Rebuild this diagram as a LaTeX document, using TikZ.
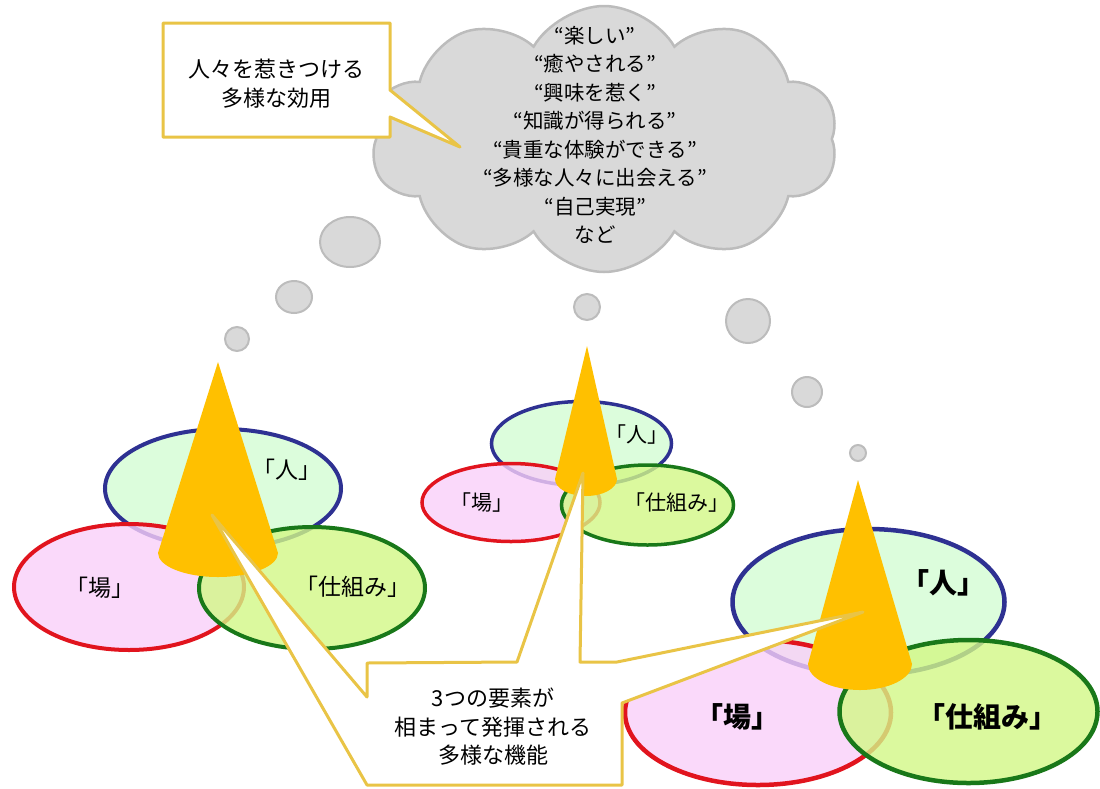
\documentclass[tikz,border=0pt]{standalone}
\usepackage{fontspec}
\setmainfont{Noto Sans CJK JP}
\usetikzlibrary{shapes.symbols}
\definecolor{gold}{RGB}{233,196,70}
\definecolor{conecol}{RGB}{255,192,0}
\definecolor{cloudfill}{RGB}{217,217,217}
\definecolor{cloudline}{RGB}{188,188,188}
\definecolor{bluel}{RGB}{46,49,146}
\definecolor{redl}{RGB}{225,20,30}
\definecolor{greenl}{RGB}{25,120,25}
\definecolor{bluef}{RGB}{211,252,211}
\definecolor{redf}{RGB}{249,207,249}
\definecolor{greenf}{RGB}{210,248,134}
\tikzset{
 hito/.style={draw=bluel, fill=bluef, fill opacity=0.8},
 ba/.style={draw=redl, fill=redf, fill opacity=0.8},
 shikumi/.style={draw=greenl, fill=greenf, fill opacity=0.8},
 conefill/.style={fill=conecol},
 callout/.style={draw=gold, fill=white, line width=3pt, line join=round},
 puff/.style={draw=cloudline, fill=cloudfill, line width=2pt},
 lblS/.style={inner sep=0pt, font=\fontsize{21}{21}\selectfont},
 lblM/.style={inner sep=0pt, font=\fontsize{23}{23}\selectfont},
 lblL/.style={inner sep=0pt, font=\fontsize{28}{28}\selectfont\bfseries},
 body/.style={inner sep=0pt, align=center},
}
\begin{document}
\begin{tikzpicture}[x=1pt,y=-1pt]
\useasboundingbox (0,0) rectangle (1100,788);

% cloud
\node[cloud, cloud puffs=10, cloud puff arc=120, cloud ignores aspect,
      minimum width=468pt, minimum height=266pt, puff, line width=2.5pt] (cloud) at (604,139) {};

% thought bubbles
\draw[puff] (350,242) ellipse [x radius=30, y radius=25];
\draw[puff] (294,297) ellipse [x radius=18, y radius=16];
\draw[puff] (237,339) circle [radius=12];
\draw[puff] (587,307) circle [radius=13];
\draw[puff] (748,321) circle [radius=22];
\draw[puff] (807,392) circle [radius=15];
\draw[puff] (858,453) circle [radius=8];

% left group
\draw[hito, line width=4pt] (223,488.5) ellipse [x radius=118, y radius=59.5];
\draw[ba, line width=4pt] (129,587) ellipse [x radius=115, y radius=63];
\draw[shikumi, line width=4pt] (312,588) ellipse [x radius=113, y radius=61];
\node[lblM] (lh) at (287,470) {「人」};
\node[lblM] (lb) at (100,588) {「場」};
\node[lblM] (ls) at (353,587) {「仕組み」};

% middle group
\draw[hito, line width=3.5pt] (581.5,443.5) ellipse [x radius=90, y radius=42];
\draw[ba, line width=3.5pt] (511,502.5) ellipse [x radius=89, y radius=39];
\draw[shikumi, line width=3.5pt] (647.5,505) ellipse [x radius=86, y radius=40];
\node[lblS] (mh) at (637,435) {「人」};
\node[lblS] (mb) at (482,503) {「場」};
\node[lblS] (ms) at (677,503) {「仕組み」};

% right group
\draw[hito, line width=4.5pt] (868.5,602) ellipse [x radius=136, y radius=73];
\draw[ba, line width=4.5pt] (758,712.5) ellipse [x radius=133, y radius=72.5];
\draw[shikumi, line width=4.5pt] (968.5,711.5) ellipse [x radius=129, y radius=71.5];
\node[lblL] (rh) at (943,583) {「人」};
\node[lblL] (rb) at (737,717) {「場」};
\node[lblL] (rs) at (987,717) {「仕組み」};

% cones
\fill[conefill] (218,362) -- (158,553) arc[start angle=180, end angle=0, x radius=60, y radius=24] -- cycle;
\fill[conefill] (587,346) -- (555,479) arc[start angle=180, end angle=0, x radius=31, y radius=17] -- cycle;
\fill[conefill] (858,480) -- (808,664) arc[start angle=180, end angle=0, x radius=52, y radius=26] -- cycle;

% top callout
\coordinate (tipT) at (460,147);
\draw[callout] (163,23) -- (390,23) -- (390,90) -- (tipT) -- (390,117) -- (390,137) -- (163,137) -- cycle;
\node[body, font=\fontsize{22}{29}\selectfont] (topt) at (276,84) {人々を惹きつける\\多様な効用};

% bottom callout
\coordinate (tipL) at (212,515);
\coordinate (tipM) at (583,473);
\coordinate (tipR) at (863,612);
\draw[callout] (367,663) -- (517,662) -- (tipM) -- (580,662) -- (617,662) -- (tipR)
  -- (622,703) -- (622,785) -- (367,785) -- (tipL) -- (367,697) -- cycle;
\node[body, font=\fontsize{22}{28.5}\selectfont] (bott) at (493,727) {3つの要素が\\相まって発揮される\\多様な機能};

% cloud text
\node[body, font=\fontsize{20.5}{28.5}\selectfont] (cloudt) at (595,135)
 {“楽しい”\\“癒やされる”\\“興味を惹く”\\“知識が得られる”\\“貴重な体験ができる”\\“多様な人々に出会える”\\“自己実現”\\など};
\end{tikzpicture}
\end{document}
